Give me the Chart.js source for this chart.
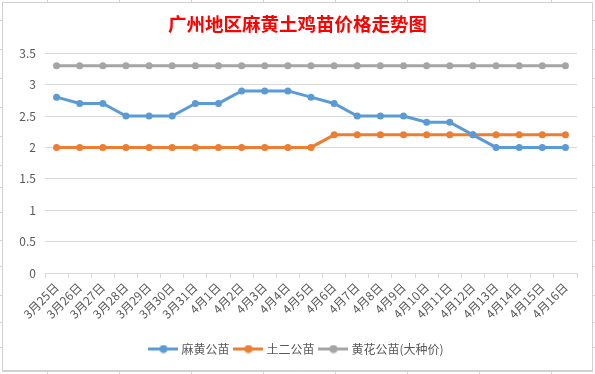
<!DOCTYPE html>
<html>
<head>
<meta charset="utf-8">
<script src="https://cdn.jsdelivr.net/npm/chart.js@4.4.1/dist/chart.umd.min.js"></script>
<style>
  html, body { margin: 0; padding: 0; background: #ffffff; }
  #c { display: block; }
</style>
</head>
<body>
<canvas id="c" width="595" height="374"></canvas>
<script>
// Data
const categories = [
    '3月25日', '3月26日', '3月27日', '3月28日', '3月29日', '3月30日', '3月31日',
    '4月1日', '4月2日', '4月3日', '4月4日', '4月5日', '4月6日', '4月7日', '4月8日',
    '4月9日', '4月10日', '4月11日', '4月12日', '4月13日', '4月14日', '4月15日', '4月16日'
];
const seriesNames = ['麻黄公苗', '土二公苗', '黄花公苗(大种价)'];
const mahuangValues = [2.8, 2.7, 2.7, 2.5, 2.5, 2.5, 2.7, 2.7, 2.9, 2.9, 2.9, 2.8, 2.7, 2.5, 2.5, 2.5, 2.4, 2.4, 2.2, 2.0, 2.0, 2.0, 2.0];
const tuerValues = [2.0, 2.0, 2.0, 2.0, 2.0, 2.0, 2.0, 2.0, 2.0, 2.0, 2.0, 2.0, 2.2, 2.2, 2.2, 2.2, 2.2, 2.2, 2.2, 2.2, 2.2, 2.2, 2.2];
const huanghuaValues = [3.3, 3.3, 3.3, 3.3, 3.3, 3.3, 3.3, 3.3, 3.3, 3.3, 3.3, 3.3, 3.3, 3.3, 3.3, 3.3, 3.3, 3.3, 3.3, 3.3, 3.3, 3.3, 3.3];
const yMin = 0;
const yMax = 3.5;
const yStep = 0.5;

const colors = ['#5B9BD5', '#ED7D31', '#A5A5A5'];
const textGray = '#595959';
const gridGray = '#D9D9D9';
const fontFamily = '"Noto Sans CJK SC", "Noto Sans", sans-serif';

// Legend marker: short line with a dot, like the spreadsheet legend
function legendIcon(color) {
    const cv = document.createElement('canvas');
    cv.width = 30;
    cv.height = 9;
    const g = cv.getContext('2d');
    g.strokeStyle = color;
    g.lineWidth = 3;
    g.beginPath();
    g.moveTo(0, 4.5);
    g.lineTo(30, 4.5);
    g.stroke();
    g.fillStyle = color;
    g.beginPath();
    g.arc(15, 4.5, 4, 0, Math.PI * 2);
    g.fill();
    return cv;
}
const icons = colors.map(legendIcon);

// Spreadsheet frame around the embedded chart (cell grid stubs + chart border)
const sheetFrame = {
    id: 'sheetFrame',
    beforeDraw(chart) {
        const ctx = chart.ctx;
        const w = chart.width, h = chart.height;
        ctx.save();
        ctx.fillStyle = '#ffffff';
        ctx.fillRect(0, 0, w, h);
        ctx.strokeStyle = '#D4D4D4';
        ctx.lineWidth = 1;
        const colX = [47.5, 119.5, 191.5, 263.5, 335.5, 407.5, 479.5, 551.5];
        const rowY = [20.5, 49.5, 78.5, 107.5, 136.5, 165.5, 187.5, 212.5, 240.5, 266.5, 295.5, 322.5, 347.5];
        ctx.beginPath();
        colX.forEach(x => { ctx.moveTo(x, 0); ctx.lineTo(x, 2); ctx.moveTo(x, 372); ctx.lineTo(x, h); });
        rowY.forEach(y => { ctx.moveTo(0, y); ctx.lineTo(2, y); ctx.moveTo(593, y); ctx.lineTo(w, y); });
        ctx.stroke();
        ctx.strokeStyle = '#D0D0D0';
        ctx.lineWidth = 1;
        ctx.strokeRect(2.5, 2.5, 590, 368);
        ctx.beginPath();
        ctx.moveTo(2, 371.5);
        ctx.lineTo(593, 371.5);
        ctx.stroke();
        ctx.restore();
    }
};

const datasets = [mahuangValues, tuerValues, huanghuaValues].map((vals, i) => ({
    label: seriesNames[i],
    data: vals,
    borderColor: colors[i],
    backgroundColor: colors[i],
    borderWidth: 3,
    pointRadius: 3.5,
    pointBorderWidth: 0,
    pointBackgroundColor: colors[i],
    pointHoverRadius: 3.5,
    tension: 0,
    fill: false
}));

new Chart(document.getElementById('c'), {
    type: 'line',
    data: { labels: categories, datasets },
    plugins: [sheetFrame],
    options: {
        responsive: false,
        devicePixelRatio: 1,
        animation: false,
        events: [],
        layout: { padding: { left: 0, right: 0, top: 0, bottom: 9 } },
        plugins: {
            title: {
                display: true,
                text: '广州地区麻黄土鸡苗价格走势图',
                color: '#FF0000',
                font: { family: fontFamily, size: 18.5, weight: 'bold' },
                padding: { top: 13, bottom: 18 }
            },
            legend: {
                display: true,
                position: 'bottom',
                labels: {
                    color: textGray,
                    font: { family: fontFamily, size: 12 },
                    usePointStyle: true,
                    pointStyleWidth: 24,
                    boxHeight: 12,
                    padding: 7,
                    generateLabels: chart => chart.data.datasets.map((ds, i) => ({
                        text: ds.label,
                        pointStyle: icons[i],
                        fillStyle: ds.borderColor,
                        strokeStyle: ds.borderColor,
                        lineWidth: 0,
                        fontColor: textGray,
                        hidden: false,
                        datasetIndex: i
                    }))
                }
            },
            tooltip: { enabled: false }
        },
        scales: {
            x: {
                offset: true,
                grid: {
                    offset: true,
                    drawOnChartArea: false,
                    drawTicks: true,
                    tickLength: 5,
                    color: gridGray
                },
                border: { display: true, color: gridGray, width: 1 },
                ticks: {
                    color: textGray,
                    font: { family: fontFamily, size: 12 },
                    minRotation: 45,
                    maxRotation: 45,
                    autoSkip: false,
                    padding: 2
                },
                afterFit: s => { s.height = 63; }
            },
            y: {
                min: yMin,
                max: yMax,
                grid: { color: gridGray, drawTicks: false, lineWidth: 1 },
                border: { display: false },
                ticks: {
                    stepSize: yStep,
                    color: textGray,
                    font: { family: fontFamily, size: 12 },
                    padding: 9,
                    callback: v => String(Number(v.toFixed(1)))
                },
                afterFit: s => { s.width = 45; }
            },
            // blank right-hand spacer so the plot ends where the reference does
            spacer: {
                type: 'linear',
                position: 'right',
                display: true,
                grid: { display: false, drawTicks: false },
                border: { display: false },
                ticks: { display: false },
                afterFit: s => { s.width = 18; }
            }
        }
    }
});
</script>
</body>
</html>
